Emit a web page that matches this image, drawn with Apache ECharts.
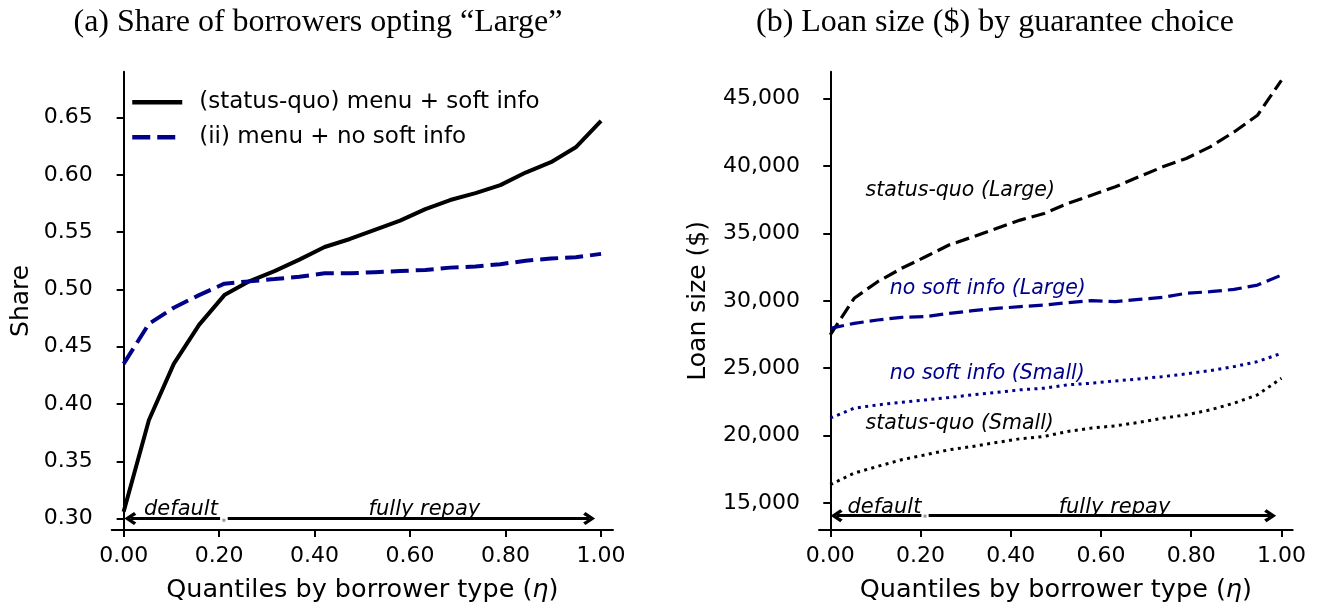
<!DOCTYPE html>
<html>
<head>
<meta charset="utf-8">
<script src="https://cdn.jsdelivr.net/npm/echarts@6/dist/echarts.min.js"></script>
<style>
html,body{margin:0;padding:0;background:#fff;}
#chart{width:1318px;height:608px;}
</style>
</head>
<body>
<div id="chart"></div>
<script>
// ---- data ----
const eta = [0.000, 0.053, 0.105, 0.158, 0.211, 0.263, 0.316, 0.368, 0.421, 0.474,
             0.526, 0.579, 0.632, 0.684, 0.737, 0.789, 0.842, 0.895, 0.947, 1.000];

// Panel (a): share of borrowers opting "Large"
const shareStatusQuo = [0.306, 0.386, 0.435, 0.469, 0.495, 0.507, 0.516, 0.526, 0.537, 0.544,
                        0.552, 0.560, 0.570, 0.578, 0.584, 0.591, 0.602, 0.611, 0.624, 0.647];
const shareNoSoft    = [0.435, 0.470, 0.484, 0.495, 0.505, 0.507, 0.509, 0.511, 0.514, 0.514,
                        0.515, 0.516, 0.517, 0.519, 0.520, 0.522, 0.525, 0.527, 0.528, 0.531];

// Panel (b): loan size by guarantee choice
const loanSqLarge = [27470, 30190, 31420, 32410, 33270, 34140, 34750, 35370, 35990, 36480,
                     37220, 37840, 38460, 39200, 39940, 40560, 41420, 42530, 43770, 46360];
const loanNsLarge = [27960, 28330, 28580, 28780, 28830, 29070, 29270, 29440, 29570, 29690,
                     29860, 30010, 29940, 30110, 30260, 30560, 30680, 30850, 31170, 31910];
const loanNsSmall = [21300, 22040, 22280, 22480, 22650, 22830, 23030, 23200, 23400, 23520,
                     23770, 23890, 24060, 24210, 24380, 24580, 24830, 25120, 25490, 26110];
const loanSqSmall = [16360, 17220, 17720, 18210, 18580, 18950, 19200, 19490, 19770, 19940,
                     20310, 20560, 20730, 20980, 21300, 21540, 21910, 22410, 23030, 24260];

// tick labels
const xTicks = [0, 0.2, 0.4, 0.6, 0.8, 1.0];
const shareTicks = [0.30, 0.35, 0.40, 0.45, 0.50, 0.55, 0.60, 0.65];
const loanTicks = [15000, 20000, 25000, 30000, 35000, 40000, 45000];

// text
const titleA = '(a) Share of borrowers opting \u201cLarge\u201d';
const titleB = '(b) Loan size ($) by guarantee choice';
const legendNames = ['(status-quo) menu + soft info', '(ii) menu + no soft info'];
const xName = 'Quantiles by borrower type ({i|\u03b7})';

// annotations (data space)
const splitEta = 0.21;
const arrowEnds = [0.014, 0.975];
const arrowShare = 0.30;
const arrowLoan = 14060;
const regionLabels = ['default', 'fully repay'];
const regionLabelEta = [0.12, 0.63];
const regionShareY = 0.3081;
const regionLoanY = 14690;
const curveLabels = [
  {text: 'status-quo (Large)', eta: 0.078, y: 38207, color: '#000'},
  {text: 'no soft info (Large)', eta: 0.132, y: 30918, color: '#00008b'},
  {text: 'no soft info (Small)', eta: 0.132, y: 24630, color: '#00008b'},
  {text: 'status-quo (Small)', eta: 0.078, y: 20918, color: '#000'}
];

// ---- build ----
const FONT = 'DejaVu Sans';
const BLUE = '#00008b';
const pairs = (ys) => eta.map((x, i) => [x, ys[i]]);
const chevron = 'path://M5,0 L10,7.6 L8,9.4 L5,4.4 L2,9.4 L0,7.6 Z';

function xAxisCfg(gi) {
  return {
    type: 'value', gridIndex: gi, min: -0.025, max: 1.025,
    name: xName, nameLocation: 'middle', nameGap: 47,
    nameTextStyle: {fontFamily: FONT, fontSize: 25.5, color: '#000',
      rich: {i: {fontFamily: FONT, fontSize: 25.5, fontStyle: 'italic', color: '#000'}}},
    axisLine: {show: true, lineStyle: {color: '#000', width: 2}},
    axisTick: {show: true, length: 7, lineStyle: {color: '#000', width: 2}, customValues: xTicks},
    axisLabel: {show: true, customValues: xTicks, margin: 15, fontFamily: FONT, fontSize: 22, color: '#000',
                formatter: v => Number(v).toFixed(2)},
    splitLine: {show: false}
  };
}

function arrowMarkLine(y) {
  return {
    silent: true, animation: false,
    symbol: ['none', chevron], symbolSize: [13, 12],
    label: {show: false},
    lineStyle: {color: '#000', width: 3, type: 'solid', opacity: 1},
    emphasis: {disabled: true},
    data: [
      [{coord: [splitEta - 0.008, y]}, {coord: [arrowEnds[0], y]}],
      [{coord: [splitEta + 0.008, y]}, {coord: [arrowEnds[1], y]}]
    ]
  };
}
function dotMarkPoint(y) {
  return {
    silent: true, animation: false,
    symbol: 'rect', symbolSize: 3,
    itemStyle: {color: '#999'},
    label: {show: false},
    data: [{coord: [splitEta, y]}]
  };
}

const labelSeriesBase = {
  type: 'scatter', symbolSize: 0, silent: true, animation: false,
  itemStyle: {opacity: 1}
};

const series = [
  {
    name: legendNames[0], type: 'line', xAxisIndex: 0, yAxisIndex: 0,
    data: pairs(shareStatusQuo), symbol: 'none', animation: false,
    lineStyle: {color: '#000', width: 4, type: 'solid'}, itemStyle: {color: '#000'},
    markLine: arrowMarkLine(arrowShare), markPoint: dotMarkPoint(arrowShare - 0.0015)
  },
  {
    name: legendNames[1], type: 'line', xAxisIndex: 0, yAxisIndex: 0,
    data: pairs(shareNoSoft), symbol: 'none', animation: false,
    lineStyle: {color: BLUE, width: 4, type: [18, 7]}, itemStyle: {color: BLUE}
  },
  {
    name: 'sqLarge', type: 'line', xAxisIndex: 1, yAxisIndex: 1,
    data: pairs(loanSqLarge), symbol: 'none', animation: false,
    lineStyle: {color: '#000', width: 3.2, type: [14, 6]},
    markLine: arrowMarkLine(arrowLoan), markPoint: dotMarkPoint(arrowLoan - 30)
  },
  {
    name: 'nsLarge', type: 'line', xAxisIndex: 1, yAxisIndex: 1,
    data: pairs(loanNsLarge), symbol: 'none', animation: false,
    lineStyle: {color: BLUE, width: 3.2, type: [14, 6]}
  },
  {
    name: 'nsSmall', type: 'line', xAxisIndex: 1, yAxisIndex: 1,
    data: pairs(loanNsSmall), symbol: 'none', animation: false,
    lineStyle: {color: BLUE, width: 3, type: [3, 4.4]}
  },
  {
    name: 'sqSmall', type: 'line', xAxisIndex: 1, yAxisIndex: 1,
    data: pairs(loanSqSmall), symbol: 'none', animation: false,
    lineStyle: {color: '#000', width: 3, type: [3, 4.4]}
  },
  Object.assign({}, labelSeriesBase, {
    name: 'regionA', xAxisIndex: 0, yAxisIndex: 0,
    data: regionLabels.map((t, i) => ({value: [regionLabelEta[i], regionShareY], name: t})),
    label: {show: true, position: 'inside', formatter: p => p.name,
            fontFamily: FONT, fontStyle: 'italic', fontSize: 21, color: '#000', opacity: 1}
  }),
  Object.assign({}, labelSeriesBase, {
    name: 'regionB', xAxisIndex: 1, yAxisIndex: 1,
    data: regionLabels.map((t, i) => ({value: [regionLabelEta[i], regionLoanY], name: t})),
    label: {show: true, position: 'inside', formatter: p => p.name,
            fontFamily: FONT, fontStyle: 'italic', fontSize: 21, color: '#000', opacity: 1}
  }),
  Object.assign({}, labelSeriesBase, {
    name: 'curveLabels', xAxisIndex: 1, yAxisIndex: 1,
    data: curveLabels.map(c => ({value: [c.eta, c.y], name: c.text,
            label: {color: c.color}})),
    label: {show: true, position: 'right', distance: 0, formatter: p => p.name,
            fontFamily: FONT, fontStyle: 'italic', fontSize: 20.5, opacity: 1}
  })
];

const option = {
  backgroundColor: '#fff',
  animation: false,
  textStyle: {fontFamily: FONT},
  grid: [
    {left: 111.7, top: 71.7, width: 501.3, height: 458.3},
    {left: 819, top: 71.7, width: 473.7, height: 458.3}
  ],
  xAxis: [xAxisCfg(0), xAxisCfg(1)],
  yAxis: [
    {
      type: 'value', gridIndex: 0, min: 0.29, max: 0.69,
      name: 'Share', nameLocation: 'middle', nameGap: 78,
      nameTextStyle: {fontFamily: FONT, fontSize: 25, color: '#000'},
      axisLine: {show: true, lineStyle: {color: '#000', width: 2}},
      axisTick: {show: true, length: 7, lineStyle: {color: '#000', width: 2}, customValues: shareTicks},
      axisLabel: {show: true, customValues: shareTicks, margin: 19, fontFamily: FONT, fontSize: 22, color: '#000',
                  formatter: v => Number(v).toFixed(2)},
      splitLine: {show: false}
    },
    {
      type: 'value', gridIndex: 1, min: 13000, max: 47000,
      name: 'Loan size ($)', nameLocation: 'middle', nameGap: 108,
      nameTextStyle: {fontFamily: FONT, fontSize: 25, color: '#000'},
      axisLine: {show: true, lineStyle: {color: '#000', width: 2}},
      axisTick: {show: true, length: 7, lineStyle: {color: '#000', width: 2}, customValues: loanTicks},
      axisLabel: {show: true, customValues: loanTicks, margin: 19, fontFamily: FONT, fontSize: 22, color: '#000',
                  formatter: v => Number(v).toLocaleString('en-US')},
      splitLine: {show: false}
    }
  ],
  legend: {
    data: legendNames, orient: 'vertical', left: 130, top: 90.7, padding: 0,
    itemWidth: 50, itemHeight: 14, itemGap: 12,
    itemStyle: {opacity: 0},
    lineStyle: {width: 4.5},
    textStyle: {fontFamily: FONT, fontSize: 23, color: '#000', padding: [0, 0, 0, 12]},
    selectedMode: false
  },
  graphic: [
    {type: 'text', x: 318, y: 23, style: {text: titleA, align: 'center', verticalAlign: 'middle',
      font: '32px "Liberation Serif", serif', fill: '#000'}},
    {type: 'text', x: 995, y: 23, style: {text: titleB, align: 'center', verticalAlign: 'middle',
      font: '32px "Liberation Serif", serif', fill: '#000'}}
  ],
  series: series
};

const chart = echarts.init(document.getElementById('chart'), null, {renderer: 'canvas'});
chart.setOption(option);
</script>
</body>
</html>
